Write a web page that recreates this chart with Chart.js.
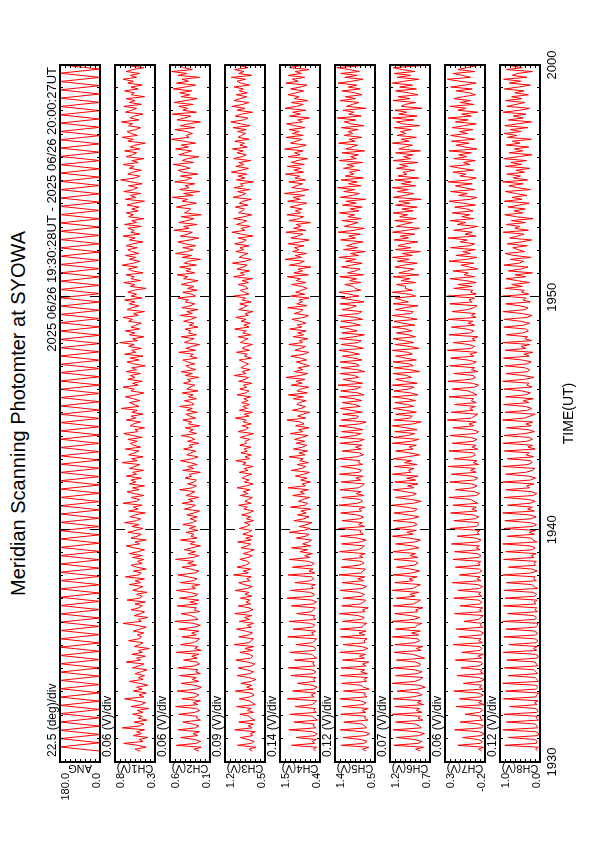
<!DOCTYPE html>
<html>
<head>
<meta charset="utf-8">
<script src="https://cdn.jsdelivr.net/npm/chart.js@4.4.1/dist/chart.umd.min.js"></script>
<style>
  body { margin: 0; background: #fff; }
  /* the plot is drawn in landscape and turned onto the portrait page */
  #land {
    position: absolute; left: 0; top: 0; width: 842px; height: 595px;
    transform-origin: 0 0; transform: translate(0, 842px) rotate(-90deg);
    font-family: "Liberation Sans", Arial, sans-serif; color: #000;
  }
  #title { position: absolute; left: 80px; width: 697px; top: 7px; text-align: center; font-size: 20px; line-height: 23px; }
  canvas { position: absolute; left: 0; }
</style>
</head>
<body>
<div id="land">
  <div id="title">Meridian Scanning Photomter at SYOWA</div>
</div>
<script>
// temps en minutes après 19:30
const timeTicks = [0, 10, 20, 30];
const timeLabels = ['1930', '1940', '1950', '2000'];
const subTitle = '2025 06/26 19:30:28UT - 2025 06/26 20:00:27UT';
const startMin = 0.47;        // 19:30:28
const chStep = 30 / 360;      // 5 s
const angStep = 0.179;

const panelNames = ['ANG', 'CH1(V)', 'CH2(V)', 'CH3(V)', 'CH4(V)', 'CH5(V)', 'CH6(V)', 'CH7(V)', 'CH8(V)'];
const divLabels = ['22.5 (deg)/div', '0.06 (V)/div', '0.06 (V)/div', '0.09 (V)/div', '0.14 (V)/div',
                   '0.12 (V)/div', '0.07 (V)/div', '0.06 (V)/div', '0.12 (V)/div'];
const panelMin = [0.0, 0.3, 0.1, 0.5, 0.4, 0.5, 0.7, -0.2, 0.0];
const panelMax = [180.0, 0.8, 0.6, 1.2, 1.5, 1.4, 1.2, 0.3, 1.0];
const minLabels = ['0.0', '0.3', '0.1', '0.5', '0.4', '0.5', '0.7', '-0.2', '0.0'];
const maxLabels = ['180.0', '0.8', '0.6', '1.2', '1.5', '1.4', '1.2', '0.3', '1.0'];

const angData = [
  0,180,0,180,0,180,0,180,0,180,0,180,0,180, 0,180,0,180,0,180,0,180,0,180,0,180,0,180,
  0,180,0,180,0,180,0,180,0,180,0,180,0,180, 0,180,0,180,0,180,0,180,0,180,0,180,0,180,
  0,180,0,180,0,180,0,180,0,180,0,180,0,180, 0,180,0,180,0,180,0,180,0,180,0,180,0,180,
  0,180,0,180,0,180,0,180,0,180,0,180,0,180, 0,180,0,180,0,180,0,180,0,180,0,180,0,180,
  0,180,0,180,0,180,0,180,0,180,0,180,0,180, 0,180,0,180,0,180,0,180,0,180,0,180,0,180,
  0,180,0,180,0,180,0,180,0,180,0,180,0,180, 0,180,0,180,0,180,0,180,0,180,0,180,0,180
];

const ch1 = [
  0.48,0.55,0.41,0.52,0.69,0.45,0.50,0.39,0.57,0.47,0.53,0.43,0.71,0.49,0.44,0.56,0.40,0.51,0.46,0.58,
  0.45,0.52,0.38,0.60,0.47,0.42,0.54,0.68,0.44,0.50,0.41,0.57,0.46,0.53,0.39,0.49,0.62,0.45,0.51,0.43,
  0.55,0.47,0.40,0.58,0.50,0.44,0.66,0.48,0.53,0.42,0.59,0.46,0.51,0.37,0.56,0.49,0.45,0.63,0.50,0.47,
  0.52,0.44,0.57,0.49,0.41,0.54,0.70,0.47,0.51,0.39,0.56,0.48,0.43,0.60,0.50,0.46,0.55,0.42,0.65,0.49,
  0.46,0.53,0.40,0.58,0.51,0.45,0.62,0.48,0.55,0.43,0.67,0.50,0.47,0.57,0.41,0.53,0.60,0.46,0.52,0.44,
  0.58,0.46,0.62,0.51,0.43,0.57,0.66,0.49,0.55,0.41,0.60,0.52,0.47,0.64,0.54,0.45,0.59,0.50,0.68,0.53,
  0.48,0.61,0.55,0.42,0.63,0.51,0.57,0.46,0.70,0.53,0.49,0.60,0.44,0.56,0.65,0.50,0.58,0.43,0.62,0.54,
  0.60,0.47,0.66,0.53,0.58,0.44,0.62,0.55,0.49,0.71,0.52,0.59,0.45,0.63,0.56,0.50,0.67,0.48,0.57,0.61,
  0.52,0.64,0.46,0.58,0.69,0.51,0.55,0.43,0.61,0.57,0.48,0.66,0.54,0.60,0.45,0.59,0.52,0.72,0.50,0.56,
  0.62,0.49,0.57,0.67,0.53,0.44,0.60,0.56,0.70,0.51,0.58,0.46,0.64,0.55,0.61,0.48,0.66,0.53,0.59,0.42,
  0.57,0.65,0.50,0.61,0.45,0.68,0.54,0.59,0.47,0.63,0.56,0.74,0.52,0.58,0.44,0.62,0.55,0.67,0.49,0.60,
  0.54,0.47,0.63,0.58,0.70,0.51,0.57,0.43,0.65,0.59,0.50,0.62,0.55,0.68,0.46,0.60,0.53,0.64,0.57,0.41,
  0.61,0.55,0.69,0.48,0.60,0.56,0.66,0.45,0.58,0.63,0.52,0.71,0.57,0.49,0.62,0.54,0.67,0.50,0.59,0.64,
  0.52,0.66,0.58,0.45,0.62,0.55,0.70,0.49,0.60,0.56,0.64,0.47,0.68,0.53,0.59,0.44,0.63,0.57,0.66,0.51,
  0.59,0.50,0.65,0.56,0.43,0.67,0.54,0.61,0.48,0.69,0.57,0.52,0.63,0.46,0.60,0.73,0.55,0.49,0.64,0.58,
  0.47,0.62,0.56,0.70,0.51,0.59,0.44,0.66,0.58,0.53,0.68,0.49,0.61,0.55,0.42,0.64,0.57,0.71,0.52,0.60,
  0.65,0.54,0.48,0.63,0.58,0.72,0.50,0.61,0.56,0.45,0.67,0.59,0.53,0.69,0.47,0.62,0.55,0.66,0.43,0.60,
  0.56,0.68,0.51,0.60,0.46,0.64,0.57,0.70,0.53,0.61,0.49,0.66,0.58,0.44,0.63,0.55,0.69,0.50,0.62,0.57
];

const ch2 = [
  0.24,0.30,0.21,0.52,0.27,0.22,0.29,0.47,0.25,0.31,0.23,0.50,0.28,0.24,0.32,0.44,0.22,0.27,0.26,0.49,
  0.29,0.23,0.27,0.53,0.25,0.31,0.22,0.45,0.28,0.24,0.30,0.51,0.26,0.21,0.29,0.46,0.24,0.32,0.27,0.48,
  0.22,0.28,0.25,0.50,0.30,0.23,0.27,0.43,0.26,0.33,0.24,0.52,0.21,0.29,0.25,0.47,0.31,0.26,0.23,0.45,
  0.27,0.33,0.24,0.49,0.29,0.22,0.31,0.54,0.25,0.28,0.34,0.46,0.23,0.30,0.27,0.51,0.26,0.35,0.24,0.48,
  0.30,0.25,0.36,0.52,0.28,0.33,0.23,0.47,0.31,0.26,0.37,0.50,0.29,0.24,0.34,0.45,0.27,0.38,0.30,0.53,
  0.31,0.24,0.37,0.28,0.42,0.33,0.22,0.35,0.29,0.47,0.26,0.34,0.30,0.40,0.25,0.36,0.28,0.44,0.32,0.27,
  0.35,0.26,0.39,0.30,0.23,0.42,0.33,0.28,0.45,0.31,0.37,0.24,0.40,0.34,0.29,0.48,0.32,0.27,0.38,0.30,
  0.27,0.41,0.33,0.36,0.22,0.44,0.30,0.38,0.26,0.35,0.47,0.31,0.25,0.39,0.34,0.28,0.43,0.32,0.36,0.24,
  0.38,0.29,0.34,0.46,0.27,0.36,0.31,0.41,0.23,0.37,0.33,0.44,0.28,0.35,0.40,0.26,0.39,0.32,0.48,0.30,
  0.33,0.42,0.27,0.37,0.31,0.45,0.25,0.39,0.35,0.29,0.43,0.34,0.38,0.24,0.41,0.32,0.46,0.28,0.36,0.40,
  0.29,0.38,0.44,0.26,0.35,0.31,0.49,0.28,0.40,0.33,0.23,0.42,0.36,0.30,0.46,0.27,0.37,0.34,0.41,0.25,
  0.36,0.30,0.43,0.34,0.27,0.47,0.32,0.39,0.25,0.45,0.35,0.29,0.41,0.37,0.50,0.28,0.33,0.44,0.26,0.38,
  0.30,0.46,0.36,0.25,0.43,0.38,0.51,0.29,0.40,0.34,0.48,0.27,0.42,0.37,0.22,0.45,0.33,0.53,0.39,0.31,
  0.44,0.28,0.41,0.50,0.35,0.24,0.47,0.38,0.32,0.55,0.36,0.43,0.26,0.49,0.39,0.30,0.46,0.21,0.42,0.37,
  0.34,0.52,0.40,0.27,0.45,0.38,0.57,0.31,0.43,0.23,0.48,0.36,0.41,0.29,0.54,0.39,0.33,0.47,0.25,0.44,
  0.50,0.35,0.42,0.56,0.30,0.45,0.38,0.24,0.49,0.41,0.33,0.53,0.37,0.46,0.28,0.43,0.58,0.36,0.40,0.32,
  0.39,0.54,0.29,0.47,0.36,0.22,0.51,0.42,0.34,0.57,0.27,0.44,0.38,0.49,0.31,0.55,0.40,0.26,0.46,0.35,
  0.48,0.33,0.56,0.41,0.28,0.52,0.37,0.45,0.23,0.50,0.39,0.58,0.32,0.43,0.47,0.30,0.54,0.36,0.42,0.49
];

const ch3 = [
  0.72,0.78,0.66,0.98,0.74,0.69,0.80,0.93,0.71,0.76,0.67,1.03,0.73,0.79,0.70,0.96,0.68,0.75,0.77,0.94,
  0.70,0.81,0.74,1.00,0.67,0.72,0.78,0.95,0.76,0.69,0.75,1.02,0.71,0.82,0.73,0.92,0.74,0.66,0.79,0.99,
  0.76,0.70,0.83,0.97,0.73,0.68,0.80,1.01,0.75,0.71,0.77,0.94,0.72,0.85,0.69,1.04,0.78,0.74,0.70,0.96,
  0.79,0.72,0.84,1.00,0.74,0.81,0.70,0.95,0.77,0.86,0.73,1.03,0.80,0.71,0.78,0.97,0.75,0.83,0.76,0.93,
  0.73,0.85,0.78,1.02,0.81,0.72,0.87,0.96,0.76,0.82,0.74,1.05,0.79,0.88,0.75,0.99,0.84,0.77,0.80,0.94,
  0.80,0.72,0.88,0.77,0.69,0.92,0.81,0.75,0.98,0.74,0.84,0.71,0.89,0.79,0.73,0.95,0.82,0.76,0.86,0.70,
  0.83,0.75,0.91,0.78,0.70,0.87,0.81,0.96,0.74,0.85,0.79,0.72,0.93,0.80,0.88,0.76,0.99,0.82,0.71,0.86,
  0.78,0.90,0.84,0.73,0.95,0.80,0.86,0.71,0.89,0.83,1.01,0.77,0.85,0.74,0.92,0.81,0.87,0.75,0.94,0.82,
  0.85,0.76,0.93,0.82,0.70,0.97,0.84,0.79,0.90,0.74,0.88,0.83,1.02,0.78,0.86,0.72,0.95,0.81,0.89,0.77,
  0.91,0.80,0.87,0.75,0.99,0.84,0.78,0.94,0.82,0.88,0.73,0.96,0.85,0.79,1.04,0.83,0.90,0.76,0.92,0.86,
  0.79,0.88,0.95,0.74,0.86,0.81,1.00,0.77,0.90,0.84,0.72,0.93,0.87,0.80,0.97,0.75,0.89,0.83,1.03,0.78,
  0.87,0.76,0.92,0.83,1.01,0.79,0.85,0.71,0.96,0.88,0.81,0.94,0.74,0.90,0.84,1.05,0.78,0.86,0.93,0.80,
  0.84,0.97,0.79,0.90,0.72,1.05,0.86,0.93,0.77,0.99,0.88,0.81,1.07,0.85,0.74,0.95,0.89,0.80,1.01,0.87,
  0.94,0.78,1.03,0.88,0.83,0.97,0.71,0.91,1.08,0.85,0.92,0.76,1.00,0.89,0.82,1.05,0.87,0.73,0.96,0.90,
  0.86,1.02,0.80,0.95,0.89,0.74,1.06,0.91,0.84,0.98,0.77,1.04,0.88,0.93,0.70,1.00,0.85,0.97,0.82,1.09,
  0.92,0.79,1.01,0.87,0.96,0.75,1.05,0.90,0.83,0.99,0.88,1.07,0.81,0.94,0.86,1.03,0.78,0.97,0.91,0.84,
  0.98,0.83,1.06,0.76,0.93,1.10,0.87,0.80,1.02,0.91,0.72,0.99,0.85,1.08,0.89,0.78,1.04,0.94,0.82,1.00,
  0.81,0.95,0.88,1.04,0.77,0.92,0.99,0.84,1.09,0.73,0.96,0.87,1.03,0.80,0.94,1.07,0.86,0.91,0.75,1.01
];

const ch4 = [
  0.52,0.58,0.49,1.18,0.55,0.61,0.50,1.05,0.53,0.48,0.60,1.26,0.51,0.59,0.56,1.12,0.47,0.55,0.60,1.22,
  0.50,0.57,0.53,1.08,0.62,0.55,0.49,1.30,0.56,0.64,0.52,1.15,0.57,0.48,0.61,1.02,0.54,0.58,0.51,1.20,
  0.58,0.51,0.63,1.27,0.53,0.60,0.56,1.10,0.49,0.57,0.62,1.23,0.55,0.52,0.59,1.06,0.61,0.54,0.50,1.29,
  0.56,0.63,0.52,1.14,0.60,0.54,0.66,1.25,0.51,0.58,0.55,1.04,0.64,0.57,0.53,1.19,0.59,0.50,0.62,1.31,
  0.61,0.55,0.68,1.21,0.58,0.64,0.53,1.09,0.66,0.57,0.62,1.28,0.54,0.70,0.59,1.16,0.63,0.56,0.72,1.24,
  0.68,0.82,0.61,0.95,0.74,1.18,0.66,0.88,0.72,0.63,1.05,0.79,0.70,1.24,0.85,0.67,0.97,0.76,0.62,1.12,
  0.84,0.70,1.02,0.78,0.92,0.65,1.21,0.81,0.74,0.99,0.87,0.68,1.15,0.83,0.95,0.72,1.28,0.80,0.89,0.66,
  0.93,0.76,1.08,0.85,0.69,1.19,0.90,0.79,1.03,0.72,0.96,0.86,1.25,0.81,0.98,0.74,1.13,0.88,0.77,1.06,
  0.82,1.10,0.91,0.73,1.22,0.87,0.99,0.70,1.07,0.84,0.94,1.31,0.79,1.01,0.88,0.68,1.16,0.92,0.80,1.04,
  0.97,0.78,1.14,0.86,1.27,0.75,1.03,0.93,0.71,1.19,0.89,1.06,0.81,1.33,0.95,0.74,1.11,0.87,1.00,0.69,
  0.86,1.05,0.77,0.94,1.20,0.83,0.71,1.09,0.92,0.80,1.26,0.88,0.97,0.73,1.14,0.85,1.01,0.78,1.23,0.90,
  1.02,0.79,0.95,1.17,0.84,0.72,1.11,0.93,0.87,1.29,0.76,1.04,0.89,0.98,0.70,1.21,0.82,1.07,0.91,0.75,
  0.90,1.18,0.79,1.05,0.94,1.30,0.72,1.12,0.88,1.00,0.65,1.24,0.96,0.83,1.36,0.91,1.08,0.77,1.15,0.98,
  1.10,0.84,1.27,0.95,0.70,1.20,1.02,0.87,1.34,0.79,1.13,0.92,1.05,0.66,1.25,0.99,0.85,1.31,0.93,1.08,
  0.89,1.22,1.01,0.76,1.29,0.94,1.14,0.82,1.38,0.97,0.71,1.17,1.04,0.88,1.26,0.80,1.09,0.96,1.35,0.85,
  1.12,0.92,1.30,0.83,1.19,1.03,0.74,1.28,0.95,1.10,0.87,1.37,0.99,0.78,1.21,1.06,0.90,1.33,0.86,1.16,
  0.97,1.25,0.81,1.09,1.32,0.88,1.01,0.69,1.23,0.94,1.15,0.79,1.36,1.04,0.86,1.19,0.73,1.11,0.98,1.28,
  1.06,0.85,1.21,0.93,0.76,1.34,1.00,1.16,0.82,1.27,0.91,1.08,0.70,1.24,0.96,1.39,0.84,1.13,0.89,1.02
];

const ch5 = [
  0.70,0.78,0.64,1.26,0.75,0.68,0.81,1.22,0.72,0.62,0.76,1.28,0.69,0.73,0.80,1.20,0.66,0.74,0.71,1.27,
  0.71,0.79,0.65,1.24,0.77,0.70,0.83,1.29,0.68,0.74,0.72,1.21,0.63,0.76,0.81,1.25,0.69,0.75,0.67,1.28,
  0.67,0.82,0.73,1.26,0.70,0.78,0.64,1.23,0.74,0.85,0.71,1.29,0.77,0.66,0.80,1.22,0.72,0.75,0.68,1.27,
  0.73,0.86,0.70,1.28,0.79,0.76,0.68,1.23,0.81,0.74,0.88,1.30,0.72,0.78,0.65,1.25,0.83,0.75,0.71,1.22,
  0.80,0.74,0.87,1.29,0.78,0.69,0.84,1.24,0.76,0.89,0.73,1.31,0.82,0.77,0.71,1.26,0.86,0.75,0.80,1.23,
  0.77,0.85,0.72,1.30,0.88,0.79,0.74,1.25,0.83,0.70,0.90,1.28,0.76,0.84,0.81,1.32,0.73,0.87,0.78,1.24,
  0.84,0.76,0.91,1.27,0.80,0.86,0.73,1.31,0.89,0.78,0.83,1.25,0.75,0.92,0.81,1.29,0.87,0.79,0.74,1.26,
  0.82,0.93,0.77,1.30,0.86,0.80,0.95,1.27,0.78,0.88,0.84,1.32,0.91,0.76,0.85,1.24,0.81,0.94,0.79,1.29,
  0.86,0.74,1.29,0.94,0.81,1.25,0.77,0.99,1.31,0.84,0.70,1.26,0.91,0.87,1.23,0.79,1.02,1.28,0.83,0.95,
  1.24,0.80,0.97,1.30,0.75,0.89,1.27,0.93,0.82,1.33,0.78,1.01,1.22,0.87,0.96,1.29,0.73,0.90,1.26,0.85,
  0.91,1.28,0.79,0.98,1.23,0.85,1.04,1.31,0.76,0.93,1.26,0.88,0.81,1.30,0.97,0.74,1.25,0.90,1.06,1.29,
  0.83,1.00,1.27,0.78,0.94,1.32,0.87,0.80,1.24,1.03,0.92,1.29,0.75,0.99,1.26,0.86,1.08,1.31,0.82,0.95,
  0.99,1.18,0.82,1.07,0.91,1.29,0.76,1.12,0.95,0.84,1.25,1.03,0.79,1.16,0.93,1.31,0.87,1.05,0.72,1.21,
  0.89,1.14,1.00,0.77,1.27,0.94,1.09,0.83,1.33,0.97,0.74,1.19,1.04,0.88,1.24,0.81,1.11,0.96,1.30,0.86,
  1.06,0.79,1.23,0.92,1.15,0.71,1.28,1.01,0.85,1.20,0.96,1.34,0.82,1.10,0.90,1.26,0.76,1.17,0.98,1.08,
  0.84,1.21,0.97,1.13,0.78,1.30,0.92,1.05,0.87,1.24,0.73,1.16,1.02,0.89,1.32,0.95,1.08,0.80,1.19,1.00,
  1.11,0.88,1.26,0.75,1.04,1.19,0.93,1.35,0.81,1.09,0.98,1.22,0.70,1.14,1.01,0.86,1.29,0.94,1.17,0.79,
  0.95,1.24,0.83,1.10,0.91,1.33,1.02,0.77,1.18,0.90,1.27,0.85,1.07,1.36,0.80,1.12,0.97,1.21,0.74,1.05
];

const ch6 = [
  0.82,0.88,0.78,1.15,0.85,0.80,0.90,1.12,0.84,0.77,0.86,1.16,0.81,0.83,0.89,1.13,0.79,0.85,0.82,1.17,
  0.80,0.87,0.83,1.14,0.78,0.86,0.81,1.16,0.91,0.80,0.84,1.11,0.85,0.76,0.83,1.17,0.89,0.82,0.79,1.13,
  0.86,0.80,0.90,1.16,0.83,0.82,0.88,1.12,0.77,0.84,0.92,1.15,0.81,0.87,0.79,1.14,0.89,0.83,0.85,1.17,
  0.84,0.93,0.82,1.13,0.88,0.86,0.80,1.17,0.90,0.83,0.94,1.14,0.85,0.88,0.79,1.16,0.91,0.86,0.82,1.12,
  0.89,0.95,0.84,1.17,0.92,0.87,0.82,1.14,0.91,0.96,0.86,1.16,0.93,0.83,0.94,1.12,0.90,0.85,0.88,1.15,
  0.85,0.95,0.88,1.16,0.98,0.84,0.92,1.13,0.89,0.82,0.96,1.17,0.91,0.99,0.87,1.14,0.93,0.86,0.90,1.16,
  0.93,0.84,0.97,1.15,0.89,0.86,1.00,1.17,0.91,0.81,0.95,1.13,0.92,0.87,1.01,1.16,0.90,0.98,0.85,1.14,
  0.88,0.99,0.85,1.17,0.94,0.97,0.90,1.15,0.86,1.02,0.93,1.16,0.99,0.83,0.95,1.13,0.91,0.96,0.87,1.17,
  0.93,0.84,1.16,0.97,0.89,1.14,0.86,1.00,1.17,0.91,0.81,1.15,0.95,0.92,1.13,0.87,1.01,1.16,0.90,0.98,
  1.14,0.88,0.99,1.17,0.85,0.94,1.15,0.97,0.90,1.17,0.86,1.02,1.13,0.93,0.99,1.16,0.83,0.95,1.15,0.91,
  0.96,1.16,0.87,1.01,1.13,0.92,0.98,1.17,0.84,0.95,1.14,0.90,1.03,1.16,0.88,0.97,1.12,0.93,1.00,1.17,
  0.89,1.04,1.15,0.86,0.99,1.17,0.94,0.91,1.13,1.02,0.85,1.16,0.97,1.06,1.14,0.88,0.96,1.17,0.92,1.01,
  1.00,1.12,0.88,1.06,0.95,1.16,0.84,1.09,0.98,0.90,1.14,1.03,0.86,1.11,0.96,1.17,0.92,1.05,0.82,1.13,
  0.94,1.10,1.01,0.85,1.15,0.97,1.07,0.89,1.17,0.99,0.83,1.12,1.04,0.92,1.14,0.87,1.08,0.98,1.16,0.91,
  1.05,0.86,1.13,0.95,1.09,0.81,1.16,1.02,0.90,1.11,0.97,1.17,0.88,1.06,0.93,1.14,0.84,1.10,0.99,1.04,
  0.89,1.12,0.98,1.08,0.85,1.16,0.94,1.03,0.91,1.13,0.82,1.09,1.01,0.92,1.17,0.96,1.06,0.87,1.11,1.00,
  1.07,0.93,1.15,0.83,1.04,1.12,0.90,1.17,0.86,1.09,0.99,1.14,0.80,1.06,1.01,0.88,1.16,0.95,1.10,0.85,
  0.97,1.13,0.87,1.08,0.92,1.17,1.02,0.84,1.11,0.94,1.15,0.89,1.05,1.16,0.82,1.10,0.98,1.14,0.86,1.03
];

const ch7 = [
  -0.16,-0.12,-0.18,0.14,-0.14,-0.17,-0.11,0.08,-0.15,-0.19,-0.13,0.18,-0.16,-0.18,-0.12,0.11,-0.17,-0.14,-0.15,0.05,
  -0.13,-0.17,-0.15,0.16,-0.19,-0.12,-0.16,0.12,-0.14,-0.18,-0.11,0.19,-0.17,-0.13,-0.16,0.07,-0.15,-0.19,-0.12,0.15,
  -0.18,-0.14,-0.16,0.10,-0.12,-0.17,-0.15,0.17,-0.16,-0.11,-0.18,0.09,-0.14,-0.16,-0.13,0.20,-0.17,-0.12,-0.15,0.13,
  -0.15,-0.18,-0.13,0.16,-0.17,-0.14,-0.16,0.06,-0.12,-0.15,-0.18,0.18,-0.16,-0.13,-0.17,0.11,-0.14,-0.16,-0.12,0.19,
  -0.16,-0.12,-0.15,0.14,-0.13,-0.17,-0.11,0.21,-0.15,-0.10,-0.14,0.12,-0.12,-0.16,-0.13,0.17,-0.14,-0.11,-0.15,0.20,
  -0.12,-0.15,-0.10,0.18,-0.14,-0.09,-0.13,0.22,-0.11,-0.15,-0.08,0.15,-0.13,-0.10,-0.14,0.23,-0.09,-0.12,-0.11,0.19,
  -0.08,-0.12,-0.05,0.23,-0.10,-0.04,-0.09,0.20,-0.11,-0.06,-0.02,0.25,-0.09,-0.13,-0.07,0.17,-0.05,-0.10,-0.03,0.24,
  -0.07,-0.11,-0.04,0.22,-0.09,-0.02,-0.08,0.26,-0.12,-0.05,-0.10,0.19,-0.03,-0.08,-0.06,0.25,-0.11,-0.04,-0.09,0.21,
  -0.05,-0.10,-0.02,0.24,-0.08,-0.12,-0.04,0.20,-0.06,0.00,-0.09,0.27,-0.03,-0.07,-0.11,0.22,-0.05,-0.01,-0.08,0.18,
  -0.09,-0.03,-0.06,0.25,-0.10,-0.05,0.01,0.21,-0.07,-0.12,-0.04,0.26,-0.02,-0.08,-0.05,0.19,-0.11,-0.03,-0.07,0.24,
  -0.04,-0.09,0.02,0.23,-0.06,-0.01,-0.10,0.27,-0.03,-0.07,0.00,0.20,-0.08,-0.04,-0.11,0.25,-0.02,-0.06,0.03,0.22,
  -0.07,0.01,-0.05,0.26,-0.09,-0.03,-0.08,0.21,0.02,-0.06,-0.10,0.24,-0.04,0.00,-0.07,0.27,-0.09,-0.02,-0.05,0.19,
  -0.04,0.14,-0.09,0.04,0.24,-0.07,0.06,0.01,0.20,-0.11,-0.01,0.10,-0.06,0.25,0.03,-0.10,0.16,-0.02,0.08,-0.08,
  0.23,0.00,-0.07,0.11,0.02,0.26,-0.09,0.05,-0.04,0.19,0.01,-0.11,0.15,0.04,0.24,-0.06,0.09,-0.01,0.21,-0.05,
  0.03,0.18,-0.08,0.08,0.25,-0.02,-0.10,0.13,0.02,0.23,-0.07,0.06,0.17,-0.04,0.26,0.01,-0.09,0.11,0.04,0.20,
  -0.06,0.10,0.24,-0.01,0.07,-0.08,0.19,0.03,0.13,-0.03,0.25,-0.10,0.05,0.16,0.00,0.22,-0.07,0.08,0.23,0.02,
  0.12,-0.05,0.21,0.06,-0.09,0.17,0.01,0.26,-0.03,0.09,-0.11,0.14,0.04,0.24,-0.06,0.11,-0.02,0.19,0.07,-0.08,
  0.00,0.16,-0.04,0.23,0.05,-0.09,0.12,0.27,-0.02,0.08,0.20,-0.07,0.14,0.03,-0.10,0.18,0.06,0.25,-0.05,0.10
];

const ch8 = [
  0.06,0.11,0.04,0.88,0.09,0.07,0.13,0.79,0.05,0.03,0.10,0.92,0.06,0.08,0.12,0.84,0.04,0.09,0.07,0.90,
  0.08,0.05,0.11,0.76,0.07,0.14,0.05,0.91,0.10,0.08,0.03,0.86,0.11,0.06,0.09,0.93,0.04,0.08,0.12,0.80,
  0.06,0.10,0.15,0.89,0.05,0.09,0.12,0.83,0.07,0.04,0.11,0.92,0.08,0.16,0.06,0.78,0.10,0.05,0.13,0.90,
  0.09,0.06,0.14,0.85,0.11,0.07,0.05,0.93,0.12,0.09,0.16,0.81,0.06,0.13,0.08,0.91,0.10,0.15,0.07,0.87,
  0.13,0.08,0.18,0.89,0.06,0.14,0.21,0.84,0.09,0.16,0.12,0.92,0.23,0.07,0.19,0.79,0.11,0.15,0.09,0.91,
  0.15,0.22,0.10,0.86,0.19,0.12,0.25,0.93,0.08,0.17,0.21,0.82,0.14,0.27,0.11,0.90,0.18,0.09,0.24,0.88,
  0.22,0.10,0.27,0.93,0.14,0.31,0.19,0.81,0.25,0.12,0.29,0.90,0.17,0.08,0.21,0.85,0.26,0.33,0.15,0.92,
  0.24,0.11,0.28,0.86,0.36,0.18,0.13,0.93,0.30,0.20,0.23,0.82,0.16,0.35,0.27,0.89,0.12,0.30,0.19,0.92,
  0.34,0.19,0.26,0.90,0.38,0.14,0.29,0.84,0.22,0.35,0.18,0.93,0.40,0.25,0.12,0.87,0.31,0.21,0.37,0.91,
  0.28,0.42,0.17,0.86,0.36,0.24,0.45,0.90,0.20,0.33,0.27,0.93,0.39,0.15,0.43,0.85,0.30,0.26,0.38,0.88,
  0.32,0.22,0.44,0.91,0.27,0.40,0.18,0.87,0.35,0.47,0.25,0.93,0.21,0.38,0.31,0.84,0.43,0.29,0.36,0.90,
  0.41,0.26,0.48,0.89,0.33,0.20,0.45,0.92,0.37,0.30,0.50,0.86,0.24,0.42,0.35,0.93,0.28,0.46,0.39,0.88,
  0.44,0.71,0.26,0.58,0.85,0.35,0.62,0.19,0.79,0.48,0.30,0.90,0.53,0.41,0.74,0.23,0.66,0.87,0.38,0.55,
  0.68,0.32,0.82,0.47,0.21,0.76,0.56,0.40,0.92,0.29,0.63,0.51,0.84,0.36,0.72,0.18,0.59,0.88,0.43,0.65,
  0.37,0.80,0.52,0.27,0.89,0.45,0.70,0.33,0.61,0.86,0.24,0.57,0.78,0.42,0.93,0.31,0.67,0.49,0.83,0.39,
  0.60,0.25,0.87,0.46,0.73,0.34,0.91,0.54,0.20,0.77,0.43,0.64,0.28,0.85,0.50,0.69,0.22,0.81,0.58,0.90,
  0.47,0.75,0.30,0.88,0.56,0.21,0.79,0.42,0.67,0.35,0.92,0.51,0.26,0.83,0.60,0.38,0.86,0.45,0.71,0.29,
  0.63,0.40,0.89,0.53,0.24,0.77,0.48,0.91,0.33,0.69,0.57,0.19,0.84,0.44,0.74,0.36,0.93,0.55,0.27,0.81
];

const seriesData = [angData, ch1, ch2, ch3, ch4, ch5, ch6, ch7, ch8];

const FONT = '"Liberation Sans", Arial, sans-serif';

// cadre, graduations intérieures et textes de chaque bande
const mspFrame = {
  id: 'msp',
  afterDraw(chart, args, opts) {
    const k = opts.idx;
    const { ctx, chartArea: a } = chart;
    const xs = chart.scales.x, ys = chart.scales.y;
    ctx.save();
    ctx.strokeStyle = '#000';
    ctx.fillStyle = '#000';

    // graduations de temps (minute / 10 min)
    ctx.lineWidth = 1;
    ctx.beginPath();
    for (let m = 1; m < 30; m++) {
      const px = Math.round(xs.getPixelForValue(m)) + 0.5;
      const len = m % 10 === 0 ? 10 : 3;
      ctx.moveTo(px, a.top); ctx.lineTo(px, a.top + len);
      ctx.moveTo(px, a.bottom); ctx.lineTo(px, a.bottom - len);
    }
    // graduations de valeur, 8 divisions
    const span = panelMax[k] - panelMin[k];
    for (let d = 1; d < 8; d++) {
      const py = Math.round(ys.getPixelForValue(panelMin[k] + d * span / 8)) + 0.5;
      ctx.moveTo(a.left, py); ctx.lineTo(a.left + 3, py);
      ctx.moveTo(a.right, py); ctx.lineTo(a.right - 3, py);
    }
    ctx.stroke();

    ctx.lineWidth = 2;
    ctx.strokeRect(a.left, a.top, a.right - a.left, a.bottom - a.top);

    // échelle à gauche
    ctx.font = '11px ' + FONT;
    ctx.textAlign = 'right';
    ctx.textBaseline = 'top';
    ctx.fillText(maxLabels[k], a.left - 11, a.top);
    ctx.textBaseline = 'alphabetic';
    ctx.fillText(minLabels[k], a.left - 11, a.bottom);
    ctx.save();
    ctx.translate(a.left - 6, (a.top + a.bottom) / 2);
    ctx.rotate(-Math.PI / 2);
    ctx.textAlign = 'center';
    ctx.textBaseline = 'middle';
    ctx.fillText(panelNames[k], 0, 0);
    ctx.restore();

    // texte au-dessus de la bande
    ctx.font = '12px ' + FONT;
    ctx.textAlign = 'left';
    ctx.textBaseline = 'alphabetic';
    ctx.fillText(divLabels[k], a.left + 5, a.top - 4);
    if (k === 0) {
      ctx.font = '13px ' + FONT;
      ctx.textAlign = 'right';
      ctx.fillText(subTitle, a.right - 2, a.top - 4);
    }

    // axe du temps sous la dernière bande
    if (k === seriesData.length - 1) {
      ctx.font = '13px ' + FONT;
      ctx.textAlign = 'center';
      ctx.textBaseline = 'top';
      timeTicks.forEach((t, i) => {
        ctx.fillText(timeLabels[i], xs.getPixelForValue(t), a.bottom + 6);
      });
      ctx.font = '14px ' + FONT;
      ctx.fillText('TIME(UT)', xs.getPixelForValue(15), a.bottom + 22);
    }
    ctx.restore();
  }
};

const land = document.getElementById('land');
const plotLeft = 80, plotRight = 777, firstTop = 60, bandGap = 55, bandH = 40;

seriesData.forEach((vals, k) => {
  const last = k === seriesData.length - 1;
  const padTop = 16, padBottom = last ? 45 : 3;
  const canvas = document.createElement('canvas');
  canvas.width = 842;
  canvas.height = padTop + bandH + padBottom;
  canvas.style.top = (firstTop + k * bandGap - padTop) + 'px';
  land.appendChild(canvas);

  const step = k === 0 ? angStep : chStep;
  const points = vals.map((v, i) => ({ x: startMin + i * step, y: v }));

  new Chart(canvas, {
    type: 'line',
    data: {
      datasets: [{
        data: points,
        borderColor: '#ff0000',
        borderWidth: 1,
        pointRadius: 0,
        tension: 0,
        fill: false
      }]
    },
    options: {
      responsive: false,
      animation: false,
      events: [],
      layout: { padding: { left: plotLeft, right: 842 - plotRight, top: padTop, bottom: padBottom } },
      plugins: { legend: { display: false }, tooltip: { enabled: false }, msp: { idx: k } },
      scales: {
        x: { type: 'linear', min: 0, max: 30, display: false },
        y: { min: panelMin[k], max: panelMax[k], display: false }
      }
    },
    plugins: [mspFrame]
  });
});
</script>
</body>
</html>
